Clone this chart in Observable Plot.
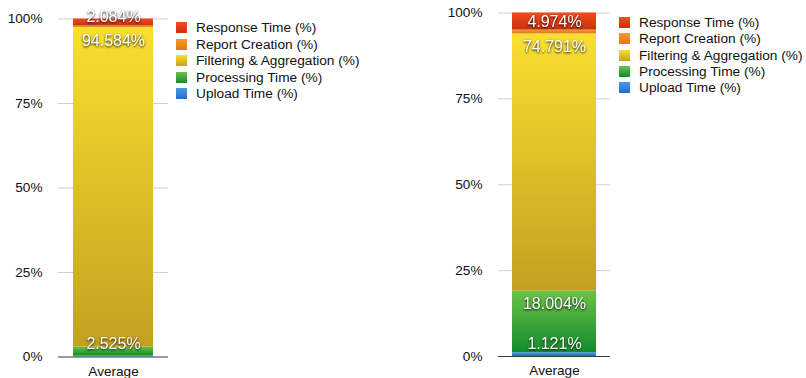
<!DOCTYPE html>
<html>
<head>
<meta charset="utf-8">
<script src="https://cdn.jsdelivr.net/npm/d3@7"></script>
<script src="https://cdn.jsdelivr.net/npm/@observablehq/plot@0.6"></script>
<style>
  html, body { margin: 0; padding: 0; background: #fff; }
  #root { position: relative; width: 806px; height: 378px; overflow: hidden; font-family: "Liberation Sans", Arial, Helvetica, sans-serif; }
  .chart { position: absolute; top: 0; }
  .legend { position: absolute; font-size: 13.7px; color: #111; }
  .legend .row { position: absolute; left: 0; white-space: nowrap; height: 16px; line-height: 16px; }
  .legend .sw { position: absolute; left: 0; top: 2px; width: 11px; height: 11px; }
  .legend .lab { position: absolute; top: 0; }
  g[aria-label="text"] { filter: drop-shadow(0px 1px 1.2px rgba(0,0,0,0.9)); }
</style>
</head>
<body>
<svg width="0" height="0" style="position:absolute">
  <defs>
    <linearGradient id="gResp" x1="0" y1="0" x2="0" y2="1"><stop offset="0" stop-color="#f24c1e"/><stop offset="1" stop-color="#c9300e"/></linearGradient>
    <linearGradient id="gRep" x1="0" y1="0" x2="0" y2="1"><stop offset="0" stop-color="#f39a26"/><stop offset="1" stop-color="#e07a12"/></linearGradient>
    <linearGradient id="gFilt" x1="0" y1="0" x2="0" y2="1"><stop offset="0" stop-color="#f8df30"/><stop offset="1" stop-color="#c4a020"/></linearGradient>
    <linearGradient id="gProc" x1="0" y1="0" x2="0" y2="1"><stop offset="0" stop-color="#6cc248"/><stop offset="1" stop-color="#138c2e"/></linearGradient>
    <linearGradient id="gUp" x1="0" y1="0" x2="0" y2="1"><stop offset="0" stop-color="#4a9ae6"/><stop offset="1" stop-color="#1f6fcc"/></linearGradient>
  </defs>
</svg>
<div id="root"></div>
<script>
// ---- data ----
const series = ["Upload Time (%)", "Processing Time (%)", "Filtering & Aggregation (%)", "Report Creation (%)", "Response Time (%)"];
const categories = ["Average"];
const leftValues = [0.4, 2.525, 94.584, 0.407, 2.084];
const rightValues = [1.121, 18.004, 74.791, 1.110, 4.974];
const yTicks = [0, 25, 50, 75, 100];
const yTickLabels = ["0%", "25%", "50%", "75%", "100%"];
const fills = ["url(#gUp)", "url(#gProc)", "url(#gFilt)", "url(#gRep)", "url(#gResp)"];
const swatchCss = [
  "linear-gradient(#4a9ae6,#1f6fcc)",
  "linear-gradient(#6cc248,#138c2e)",
  "linear-gradient(#f8df30,#c4a020)",
  "linear-gradient(#f39a26,#e07a12)",
  "linear-gradient(#f24c1e,#c9300e)"
];
const showLabel = (s, v) => v >= 1 && s !== "Report Creation (%)";

const FONT = '"Liberation Sans", Arial, Helvetica, sans-serif';
const root = document.getElementById("root");

function makeChart(values, cfg) {
  const data = series.map((s, i) => ({category: categories[0], series: s, value: values[i]}));
  const H = cfg.height, mT = cfg.marginTop, mB = cfg.marginBottom;
  const plotH = H - mT - mB;
  const k = plotH / 100;
  // label placement (pixel rules converted to data units)
  let cum = 0;
  const labels = [];
  data.forEach(d => {
    const bottom = cum, top = cum + d.value;
    cum = top;
    if (!showLabel(d.series, d.value)) return;
    const topPx = mT + (100 - top) * k;
    const botPx = mT + (100 - bottom) * k;
    const midPx = (topPx + botPx) / 2;
    const hPx = botPx - topPx;
    let c = hPx < 10 ? midPx - 6 : Math.min(topPx + 13, midPx);
    c = Math.min(c, mT + plotH - 13);
    labels.push({category: d.category, y: 100 - (c - mT) / k, text: d.value.toFixed(3) + "%"});
  });

  const svg = Plot.plot({
    width: cfg.width, height: H,
    marginLeft: cfg.marginLeft, marginRight: cfg.marginRight,
    marginTop: mT, marginBottom: mB,
    style: {fontFamily: FONT, fontSize: "13.6px", color: "#111", background: "transparent"},
    x: {domain: categories, paddingInner: 0, paddingOuter: cfg.padOuter, label: null, tickSize: 0, tickPadding: 9},
    y: {domain: [0, 100], ticks: yTicks, tickFormat: d => yTickLabels[yTicks.indexOf(d)], label: null, tickSize: 0, tickPadding: 16},
    color: {domain: series, range: fills},
    marks: [
      Plot.gridY(yTicks.filter(d => d > 0), {stroke: "#cfcfcf", strokeOpacity: 1}),
      Plot.barY(data, {x: "category", y: "value", fill: "series"}),
      Plot.ruleY([0], {stroke: "#3a3a3a", strokeWidth: 1.2}),
      Plot.text(labels, {x: "category", y: "y", text: "text", fill: "white", fontSize: 16, fontFamily: FONT})
    ]
  });
  svg.classList.add("chart");
  svg.style.left = cfg.left + "px";
  root.appendChild(svg);

  const leg = document.createElement("div");
  leg.className = "legend";
  leg.style.left = cfg.legendLeft + "px";
  leg.style.top = "0px";
  const order = series.map((s, i) => i).reverse();
  order.forEach((i, r) => {
    const row = document.createElement("div");
    row.className = "row";
    row.style.top = (cfg.legendTop + r * cfg.legendStep - 8) + "px";
    const sw = document.createElement("div");
    sw.className = "sw";
    sw.style.background = swatchCss[i];
    const lab = document.createElement("div");
    lab.className = "lab";
    lab.style.left = cfg.legendText + "px";
    lab.textContent = series[i];
    row.appendChild(sw); row.appendChild(lab);
    leg.appendChild(row);
  });
  root.appendChild(leg);
}

makeChart(leftValues, {
  left: 0, width: 403, height: 378,
  marginLeft: 58, marginRight: 235, marginTop: 18.5, marginBottom: 21.5,
  padOuter: 0.1875,
  legendLeft: 176, legendTop: 28.3, legendStep: 16.5, legendText: 20
});
makeChart(rightValues, {
  left: 403, width: 403, height: 378,
  marginLeft: 95, marginRight: 196, marginTop: 12.5, marginBottom: 22,
  padOuter: 0.16,
  legendLeft: 619, legendTop: 22.7, legendStep: 16.4, legendText: 20
});
</script>
</body>
</html>
